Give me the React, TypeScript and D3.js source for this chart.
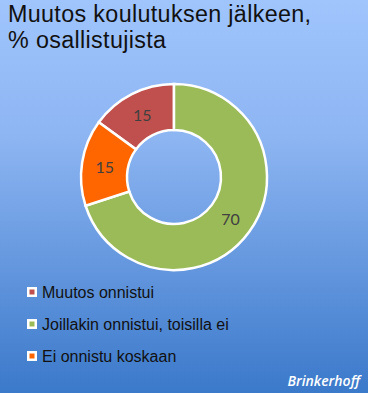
import React from "react";
import * as d3 from "d3";

const categories = ["Muutos onnistui", "Joillakin onnistui, toisilla ei", "Ei onnistu koskaan"];
const values = [15, 70, 15];
const colors = ["#C0504D", "#9BBB59", "#FF6600"];
const titleLines = ["Muutos koulutuksen jälkeen,", "% osallistujista"];
const credit = "Brinkerhoff";

const W = 368;
const H = 393;

export default function App() {
  const cx = 174;
  const cy = 177;
  const outerR = 93;
  const innerR = 47;
  const total = d3.sum(values);
  const start = -(values[0] / total) * 2 * Math.PI;
  const pie = d3
    .pie<number>()
    .sort(null)
    .startAngle(start)
    .endAngle(start + 2 * Math.PI)(values);
  const arc = d3.arc<d3.PieArcDatum<number>>().innerRadius(innerR).outerRadius(outerR);
  const labelArc = d3.arc<d3.PieArcDatum<number>>().innerRadius(innerR + 2).outerRadius(outerR - 2);

  const legendY = d3.scalePoint<string>().domain(categories).range([292, 356]);

  return (
    <svg
      width={W}
      height={H}
      style={{ position: "absolute", left: 0, top: 0, display: "block" }}
      fontFamily="Arial, 'Liberation Sans', sans-serif"
    >
      <defs>
        <linearGradient id="bg" x1="0" y1="0" x2="0" y2="1">
          <stop offset="0" stopColor="#A0C5FD" />
          <stop offset="0.35" stopColor="#8DB5F2" />
          <stop offset="1" stopColor="#3B79CA" />
        </linearGradient>
      </defs>
      <rect x={0} y={0} width={W} height={H} fill="url(#bg)" />
      {titleLines.map((t, i) => (
        <text key={i} x={8} y={21.5 + i * 26.5} fontSize={23.3} letterSpacing={0.35} fill="#111">
          {t}
        </text>
      ))}
      <g transform={`translate(${cx},${cy})`}>
        {pie.map((d, i) => (
          <path key={i} d={arc(d) || ""} fill={colors[i]} stroke="#fff" strokeWidth={2.5} />
        ))}
        {pie.map((d, i) => {
          const [x, y] = labelArc.centroid(d);
          return (
            <text
              key={"l" + i}
              x={x}
              y={y}
              textAnchor="middle"
              dominantBaseline="central"
              fontSize={16}
              fontFamily="Lato, 'Open Sans', sans-serif"
              fill="#404040"
            >
              {d.data}
            </text>
          );
        })}
      </g>
      {categories.map((c, i) => {
        const y = legendY(c) as number;
        return (
          <g key={c}>
            <rect x={27} y={y - 5} width={10} height={10} fill="#fff" />
            <rect x={29.5} y={y - 2.5} width={5} height={5} fill={colors[i]} />
            <text x={42} y={y} dominantBaseline="central" fontSize={16} fill="#111">
              {c}
            </text>
          </g>
        );
      })}
      <text
        x={360}
        y={386}
        textAnchor="end"
        fontSize={14}
        fontStyle="italic"
        fontWeight={600}
        fontFamily="'Open Sans', sans-serif"
        fill="#fff"
      >
        {credit}
      </text>
    </svg>
  );
}
